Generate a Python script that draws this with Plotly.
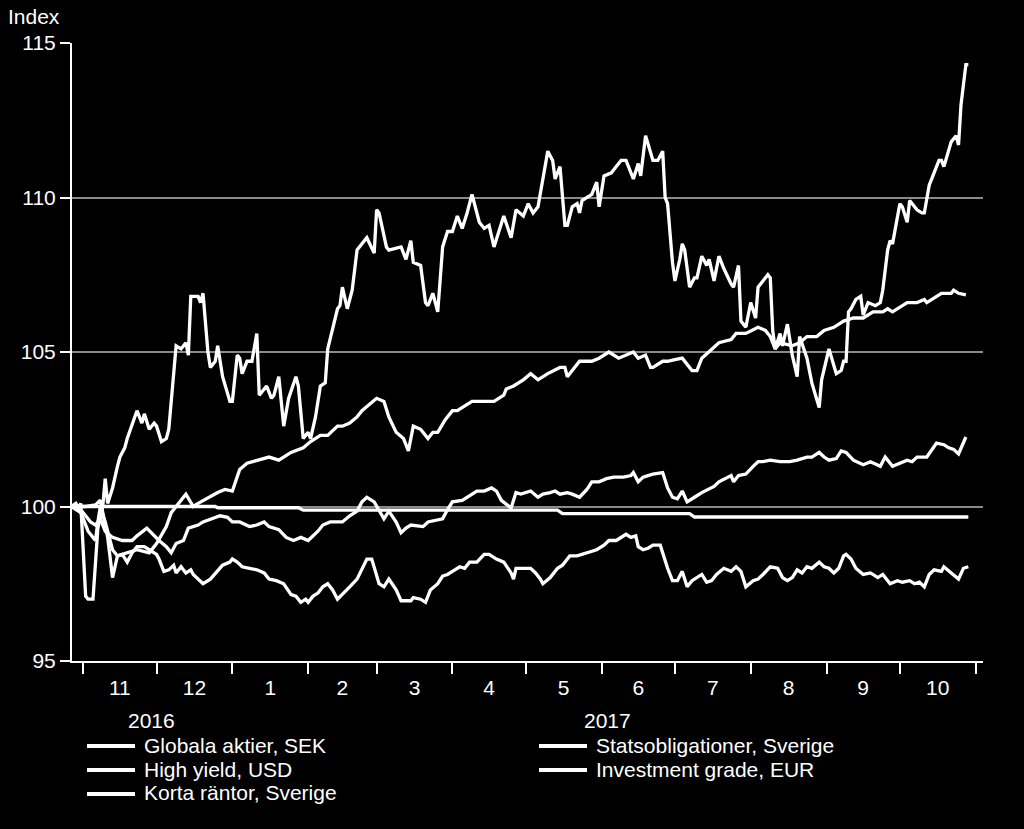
import pandas as pd
import plotly.graph_objects as go

START = "2016-10-27"

# Globala aktier, SEK
EQ_DAY = [0, 2, 3, 4, 6, 7, 9, 11, 13, 14, 15, 17, 19, 20, 22, 23, 27, 29, 30, 32, 34, 35, 37, 39, 40,
          43, 45, 47, 48, 49, 52, 53, 54, 56, 57, 59, 60, 62, 65, 66, 68, 69, 70, 72, 74, 76, 77, 80,
          82, 83, 85, 87, 89, 92, 93, 95, 97, 98, 100, 102, 104, 105, 109, 110, 111, 113, 115, 117,
          119, 121, 124, 125, 126, 129, 130, 135, 137, 139, 140, 143, 145, 146, 148, 150, 152, 154,
          156, 158, 160, 162, 164, 167, 169, 171, 173, 177, 180, 182, 185, 187, 189, 191, 193, 195,
          197, 198, 200, 202, 203, 205, 207, 208, 209, 213, 215, 216, 218, 221, 223, 225, 227, 230,
          232, 233, 235, 238, 240, 242, 243, 244, 246, 247, 249, 250, 251, 253, 255, 256, 258, 260,
          261, 263, 265, 267, 270, 271, 273, 274, 276, 278, 280, 281, 285, 286, 287, 288, 290, 291,
          293, 294, 295, 297, 298, 301, 303, 306, 307, 310, 313, 315, 316, 317, 318, 319, 321, 323,
          324, 326, 329, 331, 332, 334, 335, 336, 339, 340, 342, 343, 346, 348, 349, 351, 355, 356,
          357, 360, 362, 363, 364, 366, 367]
EQ_VAL = [100.0, 100.1, 99.95, 100.1, 97.1, 97.0, 97.0, 99.3, 100.0, 100.9, 100.1, 100.6, 101.3,
          101.6, 101.9, 102.2, 103.1, 102.7, 103.0, 102.5, 102.7, 102.6, 102.1, 102.2, 102.5,
          105.2, 105.1, 105.3, 104.9, 106.8, 106.8, 106.6, 106.9, 105.0, 104.5, 104.7, 105.2, 104.2,
          103.4, 103.4, 104.9, 104.8, 104.3, 104.7, 104.7, 105.6, 103.6, 103.9, 103.5, 103.6, 104.2,
          102.6, 103.5, 104.2, 103.9, 102.2, 102.4, 102.2, 102.9, 103.9, 104.0, 105.1, 106.4, 106.5,
          107.1, 106.4, 107.0, 108.3, 108.5, 108.7, 108.2, 109.6, 109.5, 108.4, 108.3, 108.4, 108.0,
          108.6, 107.9, 107.8, 106.6, 106.5, 106.9, 106.3, 108.4, 108.9, 108.9, 109.4, 109.0, 109.5,
          110.1, 109.2, 109.0, 109.1, 108.4, 109.4, 108.7, 109.6, 109.4, 109.8, 109.5, 109.7, 110.6,
          111.5, 111.2, 110.6, 111.0, 109.1, 109.1, 109.7, 109.8, 109.5, 109.9, 110.1, 110.5, 109.7,
          110.7, 110.8, 111.0, 111.2, 111.2, 110.6, 111.1, 110.7, 112.0, 111.2, 111.2, 111.5, 110.0,
          109.8, 107.9, 107.3, 108.0, 108.5, 108.3, 107.1, 107.4, 107.4, 108.1, 107.8, 108.0, 107.3,
          108.1, 107.7, 107.2, 107.1, 107.8, 106.0, 105.8, 106.6, 106.1, 107.1, 107.5, 107.4, 105.7,
          105.1, 105.6, 105.2, 105.9, 105.3, 104.9, 104.2, 105.5, 104.8, 104.0, 103.2, 104.1, 105.1,
          104.3, 104.4, 104.7, 104.7, 106.3, 106.4, 106.7, 106.8, 106.2, 106.6, 106.5, 106.6, 107.0,
          108.3, 108.6, 108.5, 109.8, 109.7, 109.2, 109.9, 109.6, 109.5, 109.5, 110.4, 111.2, 111.2,
          111.0, 111.8, 112.0, 111.7, 113.0, 114.3, 114.3]

# High yield, USD
HY_DAY = [0, 4, 7, 10, 11, 12, 14, 17, 19, 21, 27, 32, 35, 39, 41, 43, 47, 50, 52, 60, 63, 66, 69,
          72, 76, 81, 85, 90, 95, 98, 102, 105, 109, 111, 114, 117, 119, 122, 125, 128, 130, 133,
          136, 138, 140, 143, 146, 148, 150, 153, 156, 158, 160, 164, 167, 171, 173, 177, 178, 181,
          185, 188, 191, 195, 200, 202, 203, 205, 208, 211, 213, 216, 218, 220, 224, 227, 230, 232,
          235, 237, 238, 242, 244, 247, 250, 254, 256, 258, 261, 265, 270, 272, 276, 281, 284, 286,
          288, 290, 295, 298, 301, 305, 308, 312, 316, 320, 324, 328, 332, 334, 336, 340, 342, 346,
          349, 350, 354, 356, 360, 361, 363, 366]
HY_VAL = [100.0, 99.8, 99.2, 98.9, 99.5, 100.0, 99.5, 98.6, 98.4, 98.45, 98.6, 98.5, 98.8, 99.35,
          99.8, 100.0, 100.4, 100.0, 100.1, 100.45, 100.55, 100.5, 101.2, 101.4, 101.5, 101.6,
          101.5, 101.75, 101.9, 102.1, 102.3, 102.3, 102.6, 102.6, 102.7, 102.9, 103.1, 103.3,
          103.5, 103.4, 102.9, 102.4, 102.2, 101.8, 102.6, 102.5, 102.2, 102.4, 102.4, 102.8, 103.1,
          103.1, 103.2, 103.4, 103.4, 103.4, 103.4, 103.6, 103.8, 103.9, 104.1, 104.3, 104.1, 104.3,
          104.5, 104.5, 104.2, 104.4, 104.7, 104.7, 104.7, 104.8, 104.9, 105.0, 104.8, 104.9, 105.0,
          104.8, 104.9, 104.5, 104.5, 104.7, 104.7, 104.75, 104.8, 104.4, 104.4, 104.8, 105.0, 105.3,
          105.4, 105.6, 105.6, 105.8, 105.7, 105.5, 105.1, 105.3, 105.2, 105.3, 105.5, 105.5, 105.7,
          105.8, 106.0, 106.1, 106.1, 106.3, 106.3, 106.4, 106.3, 106.5, 106.6, 106.6, 106.7, 106.6,
          106.8, 106.9, 106.9, 107.0, 106.9, 106.85]

# Korta räntor, Sverige
KR_DAY = [0, 59, 60, 93, 95, 199, 201, 253, 255, 367]
KR_VAL = [100.0, 100.0, 99.96, 99.96, 99.88, 99.88, 99.77, 99.77, 99.66, 99.66]

# Statsobligationer, Sverige
SB_DAY = [0, 6, 10, 12, 15, 17, 19, 21, 23, 25, 27, 30, 32, 35, 36, 38, 40, 42, 43, 45, 47, 49, 50,
          53, 54, 57, 60, 62, 65, 66, 68, 70, 73, 76, 79, 81, 84, 87, 90, 92, 94, 96, 97, 99, 101,
          103, 105, 107, 109, 111, 114, 117, 119, 121, 123, 124, 126, 128, 130, 133, 135, 139, 140,
          143, 145, 147, 150, 152, 154, 157, 159, 161, 163, 166, 169, 171, 174, 177, 180, 181, 182,
          188, 190, 192, 193, 196, 199, 201, 204, 207, 209, 212, 215, 218, 220, 223, 225, 227, 229,
          231, 232, 234, 236, 238, 241, 242, 244, 246, 248, 250, 252, 254, 258, 260, 262, 264, 267,
          270, 272, 274, 276, 279, 281, 283, 286, 289, 291, 293, 295, 297, 299, 301, 303, 306, 308,
          310, 312, 314, 316, 317, 319, 321, 324, 327, 330, 332, 335, 338, 340, 343, 345, 347, 349,
          351, 353, 356, 357, 360, 363, 365, 367]
SB_VAL = [100.0, 100.0, 100.05, 100.2, 99.0, 97.7, 98.4, 98.45, 98.2, 98.5, 98.7, 98.7, 98.6,
          98.45, 98.3, 97.9, 97.95, 98.1, 97.85, 98.05, 97.85, 97.95, 97.8, 97.6, 97.5, 97.65, 97.9,
          98.1, 98.2, 98.3, 98.2, 98.05, 98.0, 97.95, 97.85, 97.65, 97.6, 97.5, 97.15, 97.1, 96.9,
          97.0, 96.9, 97.1, 97.2, 97.4, 97.5, 97.3, 97.0, 97.15, 97.4, 97.65, 97.95, 98.3, 98.3,
          98.0, 97.5, 97.4, 97.65, 97.3, 96.95, 96.95, 97.05, 97.0, 96.9, 97.3, 97.5, 97.75, 97.8,
          97.95, 98.05, 98.0, 98.2, 98.2, 98.45, 98.45, 98.3, 98.2, 97.85, 97.65, 98.0, 98.0, 97.85,
          97.65, 97.5, 97.7, 98.0, 98.1, 98.4, 98.4, 98.45, 98.5, 98.6, 98.75, 98.9, 98.9, 99.0,
          99.1, 99.0, 99.05, 98.7, 98.6, 98.65, 98.75, 98.75, 98.5, 98.0, 97.6, 97.6, 97.9, 97.4,
          97.6, 97.8, 97.55, 97.6, 97.8, 98.0, 97.9, 98.05, 97.9, 97.4, 97.6, 97.65, 97.8, 98.05,
          98.0, 97.7, 97.6, 97.7, 97.95, 97.85, 98.05, 98.0, 98.2, 98.05, 98.0, 97.85, 98.0, 98.4,
          98.45, 98.3, 98.0, 97.8, 97.85, 97.7, 97.8, 97.5, 97.6, 97.55, 97.6, 97.5, 97.55, 97.4,
          97.8, 97.95, 97.9, 98.05, 97.85, 97.65, 98.0, 98.05]

# Investment grade, EUR
IG_DAY = [0, 4, 8, 10, 12, 14, 17, 21, 25, 27, 31, 34, 36, 39, 41, 43, 46, 48, 52, 54, 58, 61, 64,
          66, 69, 73, 76, 79, 81, 85, 88, 91, 94, 97, 101, 103, 106, 109, 111, 114, 117, 119, 121,
          124, 126, 128, 130, 133, 135, 137, 139, 144, 146, 149, 152, 154, 156, 160, 162, 166, 169,
          172, 174, 176, 180, 182, 184, 188, 191, 193, 196, 198, 200, 203, 205, 208, 211, 213, 216,
          219, 222, 226, 229, 230, 232, 234, 236, 238, 242, 244, 246, 248, 250, 252, 255, 258, 263,
          265, 270, 271, 273, 276, 279, 281, 283, 286, 290, 294, 297, 301, 303, 306, 308, 310, 313,
          315, 317, 320, 324, 327, 331, 333, 336, 339, 342, 344, 346, 350, 352, 354, 357, 359, 361,
          363, 366]
IG_VAL = [100.0, 99.9, 99.5, 99.4, 99.6, 99.2, 99.0, 98.9, 98.9, 99.05, 99.3, 99.05, 98.9, 98.7,
          98.5, 98.8, 98.9, 99.3, 99.4, 99.5, 99.6, 99.7, 99.65, 99.5, 99.5, 99.35, 99.4, 99.5,
          99.35, 99.25, 99.0, 98.9, 99.0, 98.9, 99.2, 99.4, 99.5, 99.5, 99.5, 99.7, 99.85, 100.15,
          100.3, 100.15, 99.85, 99.6, 99.85, 99.5, 99.15, 99.3, 99.4, 99.35, 99.5, 99.55, 99.6,
          99.9, 100.15, 100.2, 100.3, 100.5, 100.5, 100.6, 100.5, 100.2, 99.95, 100.45, 100.4,
          100.5, 100.3, 100.4, 100.45, 100.5, 100.4, 100.45, 100.4, 100.3, 100.55, 100.8, 100.8,
          100.9, 100.95, 100.95, 101.0, 101.1, 100.8, 100.95, 101.0, 101.05, 101.1, 100.6, 100.3,
          100.25, 100.5, 100.15, 100.3, 100.45, 100.65, 100.8, 101.0, 100.8, 101.0, 101.05, 101.3,
          101.45, 101.45, 101.5, 101.45, 101.45, 101.5, 101.6, 101.6, 101.75, 101.6, 101.5, 101.55,
          101.8, 101.75, 101.5, 101.35, 101.45, 101.3, 101.6, 101.3, 101.4, 101.5, 101.45, 101.6,
          101.6, 101.85, 102.05, 102.0, 101.9, 101.85, 101.7, 102.25]

SERIES = [
    ("Globala aktier, SEK", EQ_DAY, EQ_VAL),
    ("High yield, USD", HY_DAY, HY_VAL),
    ("Korta räntor, Sverige", KR_DAY, KR_VAL),
    ("Statsobligationer, Sverige", SB_DAY, SB_VAL),
    ("Investment grade, EUR", IG_DAY, IG_VAL),
]

Y_TICKS = [95, 100, 105, 110, 115]
YEAR_LABELS = ["2016", "2017"]

FONT = "Liberation Sans, Arial, sans-serif"
W, H = 1024, 829
L, R, T, B = 72, 41, 43, 168
PW, PH = W - L - R, H - T - B


def px(x):
    return (x - L) / PW


def py(y):
    return (H - B - y) / PH


start = pd.Timestamp(START)
fig = go.Figure()
for name, days, vals in SERIES:
    dates = start + pd.to_timedelta(days, unit="D")
    fig.add_trace(go.Scatter(x=dates, y=vals, mode="lines", name=name,
                             line=dict(color="white", width=3.3), showlegend=False))

# manual legend
legend_pos = [(87, 746), (87, 770), (87, 794), (539, 746), (539, 770)]
for (lx, ly), idx in zip(legend_pos, range(len(SERIES))):
    fig.add_shape(type="line", xref="paper", yref="paper", x0=px(lx), x1=px(lx + 48),
                  y0=py(ly), y1=py(ly), line=dict(color="white", width=4))
    fig.add_annotation(xref="paper", yref="paper", x=px(lx + 55), y=py(ly - 1),
                       text=SERIES[idx][0], showarrow=False, xanchor="left", yanchor="middle",
                       font=dict(family=FONT, size=21, color="white"))

for txt, cx in zip(YEAR_LABELS, [151, 607]):
    fig.add_annotation(xref="paper", yref="paper", x=px(cx), y=py(720), text=txt,
                       showarrow=False, xanchor="center", yanchor="middle",
                       font=dict(family=FONT, size=21, color="white"))

fig.add_annotation(xref="paper", yref="paper", x=px(6), y=py(17), text="Index",
                   showarrow=False, xanchor="left", yanchor="middle",
                   font=dict(family=FONT, size=21, color="white"))

fig.update_layout(
    width=W, height=H, margin=dict(l=L, r=R, t=T, b=B),
    paper_bgcolor="black", plot_bgcolor="black",
    font=dict(family=FONT, size=21, color="white"),
    showlegend=False,
)
fig.update_xaxes(
    type="date", range=["2016-10-27 10:00", "2017-11-04 00:00"],
    dtick="M1", tick0="2016-11-01", tickformat="%-m", ticklabelmode="period",
    ticks="outside", ticklen=11, tickwidth=2, tickcolor="white",
    showline=True, linecolor="white", linewidth=2, showgrid=False, zeroline=False,
    ticklabelstandoff=-4,
    tickfont=dict(family=FONT, size=21, color="white"),
)
fig.update_yaxes(
    range=[95, 115], tickvals=Y_TICKS, ticks="outside", ticklen=10, tickwidth=2,
    tickcolor="white", showline=True, linecolor="white", linewidth=2,
    showgrid=True, gridcolor="#8a8a8a", gridwidth=2, zeroline=False,
    tickfont=dict(family=FONT, size=21, color="white"),
)

fig.write_html("out.html")
